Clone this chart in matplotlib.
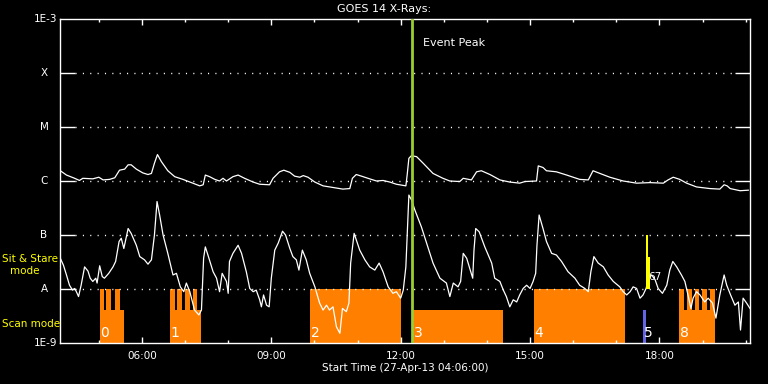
import numpy as np
import matplotlib
matplotlib.use("Agg")
import matplotlib.pyplot as plt
from matplotlib.ticker import FixedLocator, NullFormatter

# ---------------- data (time = hour of day, value = log10 flux W/m^2) ----------
long_t = [4.09, 4.25, 4.44, 4.55, 4.63, 4.86, 5.00, 5.10, 5.25, 5.37, 5.48, 5.60, 5.68, 5.75,
          5.87, 6.02, 6.14, 6.22, 6.29, 6.36, 6.45, 6.60, 6.76, 6.95, 7.18, 7.34, 7.42, 7.47,
          7.57, 7.69, 7.80, 7.88, 7.96, 8.11, 8.23, 8.38, 8.58, 8.73, 8.96, 9.04, 9.19, 9.29,
          9.43, 9.54, 9.66, 9.74, 9.85, 10.01, 10.20, 10.43, 10.66, 10.82, 10.88, 10.97, 11.09,
          11.28, 11.44, 11.59, 11.75, 11.90, 12.12, 12.15, 12.19, 12.25, 12.37, 12.52, 12.75,
          12.98, 13.14, 13.37, 13.45, 13.64, 13.76, 13.87, 14.07, 14.30, 14.53, 14.76, 14.88,
          15.15, 15.19, 15.30, 15.38, 15.61, 15.85, 16.15, 16.35, 16.46, 16.62, 16.85, 17.16,
          17.47, 17.78, 18.09, 18.20, 18.32, 18.47, 18.63, 18.86, 19.17, 19.40, 19.50, 19.57,
          19.64, 19.87, 20.06]
long_logf = [-5.80, -5.89, -5.95, -5.99, -5.95, -5.96, -5.93, -5.98, -5.97, -5.94, -5.80, -5.78,
             -5.70, -5.70, -5.78, -5.85, -5.88, -5.86, -5.67, -5.51, -5.64, -5.81, -5.92, -5.97,
             -6.04, -6.09, -6.07, -5.89, -5.92, -5.97, -6.00, -5.95, -6.00, -5.92, -5.89, -5.95,
             -6.02, -6.06, -6.07, -5.95, -5.83, -5.80, -5.84, -5.91, -5.93, -5.90, -5.93, -6.02,
             -6.09, -6.12, -6.15, -6.14, -5.95, -5.88, -5.91, -5.96, -6.00, -5.99, -6.02, -6.06,
             -6.09, -5.89, -5.58, -5.53, -5.55, -5.67, -5.86, -5.95, -6.00, -6.01, -5.95, -5.98,
             -5.83, -5.81, -5.88, -5.98, -6.02, -6.04, -6.01, -6.00, -5.72, -5.75, -5.81, -5.83,
             -5.89, -5.97, -5.98, -5.81, -5.86, -5.93, -6.00, -6.04, -6.03, -6.04, -5.98, -5.93,
             -5.97, -6.04, -6.11, -6.14, -6.15, -6.07, -6.09, -6.14, -6.18, -6.17]

short_t = [4.09, 4.18, 4.25, 4.32, 4.39, 4.44, 4.48, 4.53, 4.59, 4.67, 4.75, 4.80, 4.86, 4.93,
           4.96, 5.02, 5.08, 5.13, 5.23, 5.33, 5.39, 5.47, 5.52, 5.58, 5.68, 5.75, 5.87, 5.95,
           6.06, 6.14, 6.22, 6.29, 6.35, 6.41, 6.49, 6.60, 6.72, 6.80, 6.89, 6.97, 7.03, 7.11,
           7.22, 7.32, 7.38, 7.43, 7.47, 7.53, 7.65, 7.73, 7.80, 7.86, 7.96, 8.00, 8.03, 8.11,
           8.23, 8.31, 8.42, 8.50, 8.58, 8.65, 8.73, 8.77, 8.82, 8.89, 8.95, 9.00, 9.08, 9.16,
           9.26, 9.33, 9.43, 9.50, 9.58, 9.64, 9.72, 9.81, 9.89, 10.01, 10.12, 10.20, 10.28,
           10.35, 10.43, 10.51, 10.59, 10.65, 10.74, 10.80, 10.84, 10.92, 11.05, 11.17, 11.28,
           11.40, 11.50, 11.59, 11.71, 11.82, 11.90, 12.00, 12.06, 12.12, 12.15, 12.19, 12.25,
           12.33, 12.48, 12.60, 12.75, 12.91, 13.06, 13.14, 13.22, 13.33, 13.39, 13.45, 13.53,
           13.67, 13.70, 13.74, 13.82, 13.95, 14.11, 14.18, 14.30, 14.38, 14.45, 14.53, 14.61,
           14.69, 14.76, 14.84, 14.92, 15.00, 15.07, 15.13, 15.16, 15.21, 15.30, 15.38, 15.50,
           15.61, 15.73, 15.88, 16.04, 16.15, 16.27, 16.35, 16.41, 16.48, 16.58, 16.70, 16.81,
           16.93, 17.08, 17.16, 17.24, 17.32, 17.39, 17.47, 17.55, 17.62, 17.69, 17.76, 17.82,
           17.90, 17.97, 18.07, 18.17, 18.24, 18.31, 18.40, 18.51, 18.59, 18.67, 18.73, 18.78,
           18.86, 18.94, 19.05, 19.13, 19.23, 19.31, 19.40, 19.50, 19.56, 19.65, 19.75, 19.83,
           19.88, 19.94, 20.02, 20.10]
short_logf = [-7.40, -7.56, -7.74, -7.93, -8.02, -7.99, -8.05, -8.14, -7.93, -7.59, -7.67, -7.80,
              -7.86, -7.80, -7.89, -7.57, -7.77, -7.80, -7.71, -7.59, -7.49, -7.12, -7.06, -7.25,
              -6.88, -6.97, -7.19, -7.40, -7.46, -7.54, -7.46, -7.00, -6.38, -6.63, -7.00, -7.34,
              -7.74, -7.71, -7.96, -8.05, -7.89, -8.05, -8.39, -8.48, -8.39, -7.43, -7.22, -7.37,
              -7.68, -7.80, -8.05, -7.71, -7.86, -8.08, -7.49, -7.34, -7.19, -7.34, -7.68, -7.99,
              -8.05, -8.02, -8.20, -8.33, -8.11, -8.30, -8.33, -7.80, -7.28, -7.15, -6.93, -7.00,
              -7.25, -7.40, -7.46, -7.65, -7.28, -7.46, -7.71, -7.96, -8.26, -8.39, -8.30, -8.39,
              -8.33, -8.70, -8.82, -8.36, -8.42, -8.26, -7.52, -6.97, -7.28, -7.46, -7.59, -7.65,
              -7.52, -7.68, -7.96, -8.08, -8.05, -8.17, -8.02, -7.59, -7.03, -6.26, -6.35, -6.54,
              -6.85, -7.15, -7.52, -7.80, -7.89, -8.14, -7.89, -7.96, -7.86, -7.34, -7.43, -7.80,
              -7.28, -6.88, -6.94, -7.22, -7.52, -7.80, -7.86, -8.02, -8.14, -8.33, -8.20, -8.24,
              -8.11, -7.99, -7.93, -7.99, -7.86, -7.71, -7.19, -6.63, -6.88, -7.12, -7.34, -7.37,
              -7.49, -7.68, -7.80, -7.93, -7.99, -8.05, -7.68, -7.40, -7.52, -7.59, -7.74, -7.86,
              -7.96, -8.05, -8.11, -8.05, -7.96, -7.99, -8.17, -8.11, -7.99, -7.77, -7.74, -7.83,
              -7.99, -8.08, -7.93, -7.65, -7.49, -7.59, -7.74, -7.86, -8.14, -8.36, -8.17, -8.05,
              -8.11, -8.24, -8.17, -8.26, -8.54, -8.11, -7.74, -7.93, -8.11, -8.30, -8.24, -8.76,
              -8.17, -8.26, -8.36]

# observation blocks: (start hour, end hour, top flux)
SIT = 1e-8      # sit & stare level
SCAN = 4.1e-9   # scan level
block_start = [5.02, 5.02, 5.17, 5.37, 6.64, 6.64, 6.81, 6.99, 7.18, 9.89, 12.29, 15.09,
               18.46, 18.46, 18.63, 18.82, 18.99, 19.17]
block_end   = [5.58, 5.13, 5.29, 5.48, 7.38, 6.76, 6.93, 7.11, 7.28, 12.00, 14.38, 17.20,
               19.29, 18.57, 18.75, 18.92, 19.10, 19.29]
block_top   = [SCAN, SIT, SIT, SIT, SCAN, SIT, SIT, SIT, SIT, SIT, SCAN, SIT,
               SCAN, SIT, SIT, SIT, SIT, SIT]
block_labels = ["0", "1", "2", "3", "4", "5", "8"]
label_t = [5.02, 6.64, 9.89, 12.29, 15.09, 17.62, 18.46]

event_peak_t = 12.27
blue_t = (17.62, 17.68)
yellow_t = (17.69, 17.74)

xmin, xmax = 4.1, 20.1
ymin, ymax = 1e-9, 1e-3
ylevels = [1e-4, 1e-5, 1e-6, 1e-7, 1e-8]
ylevel_names = ["X", "M", "C", "B", "A"]
xticks_major = [6, 9, 12, 15, 18]
xtick_labels = ["06:00", "09:00", "12:00", "15:00", "18:00"]

# ---------------- figure ----------------
W, H = 768, 384
fig = plt.figure(figsize=(W / 100, H / 100), dpi=100, facecolor="black")
L, R, T, B = 60, 750, 19, 343
ax = fig.add_axes([L / W, 1 - B / H, (R - L) / W, (B - T) / H], facecolor="black")
ax.set_yscale("log")
ax.set_xlim(xmin, xmax)
ax.set_ylim(ymin, ymax)

orange = "#ff8000"
for s, e, top in zip(block_start, block_end, block_top):
    ax.fill_between([s, e], [ymin, ymin], [top, top], color=orange, lw=0, zorder=1)

# blue and yellow markers
ax.fill_between(list(blue_t), [ymin] * 2, [SCAN] * 2, color="#6464e6", lw=0, zorder=1)
ax.fill_between(list(yellow_t), [1e-8] * 2, [1e-7] * 2, color="#ffff00", lw=0, zorder=3)
ax.fill_between([17.72, 17.77], [1e-8] * 2, [10 ** -7.40] * 2, color="#ffff00", lw=0, zorder=3)

# dotted level lines
x0 = xmin + (75 - L) / (R - L) * (xmax - xmin)
x1 = xmin + (736 - L) / (R - L) * (xmax - xmin)
for lv in ylevels:
    ax.plot([x0, x1], [lv, lv], color="white", lw=1.0, ls=(0, (0.8, 4.5)), zorder=1.5)

ax.plot(long_t, 10 ** np.array(long_logf), color="white", lw=0.9, zorder=2)
ax.plot(short_t, 10 ** np.array(short_logf), color="white", lw=0.9, zorder=2)

ax.axvline(event_peak_t, color="#9acd32", lw=2.0, zorder=3)

for lab, t in zip(block_labels, label_t):
    ax.text(t + 0.02, 1.15e-9, lab, color="white", fontsize=10, ha="left", va="bottom", zorder=4)
ax.text(17.74, 10 ** -7.78, "67", color="white", fontsize=7.5, ha="left", va="center", zorder=4)

ax.text(12.52, 10 ** -3.45, "Event Peak", color="white", fontsize=8, ha="left", va="center")

# spines & ticks
for sp in ax.spines.values():
    sp.set_color("white")
    sp.set_linewidth(1.0)
ax.xaxis.set_major_locator(FixedLocator(xticks_major))
ax.xaxis.set_minor_locator(FixedLocator([h for h in range(5, 21) if h not in xticks_major]))
ax.set_xticklabels(xtick_labels)
ax.xaxis.set_minor_formatter(NullFormatter())
ax.tick_params(axis="x", which="major", direction="in", length=4.5, width=1, colors="white",
               top=True, bottom=True, labelsize=7.5, pad=6)
ax.tick_params(axis="x", which="minor", direction="in", length=2.5, width=1, colors="white",
               top=True, bottom=True)
ax.yaxis.set_major_locator(FixedLocator(ylevels))
ax.yaxis.set_minor_locator(FixedLocator([]))
ax.tick_params(axis="y", which="major", direction="in", length=10.5, width=1, colors="white",
               left=True, right=True, labelleft=False)
ax.tick_params(axis="y", which="minor", length=0)

def ftxt(x, y, s, **kw):
    fig.text(x / W, 1 - y / H, s, **kw)

ftxt(57, 19, "1E-3", color="white", fontsize=7.5, ha="right", va="center")
ftxt(57, 343, "1E-9", color="white", fontsize=7.5, ha="right", va="center")
for lv, nm in zip(ylevels, ylevel_names):
    ypx = T + (np.log10(ymax) - np.log10(lv)) / 6 * (B - T)
    ftxt(44, ypx, nm, color="white", fontsize=7.5, ha="center", va="center")

ftxt(2, 259, "Sit & Stare", color="#ffff00", fontsize=7.5, ha="left", va="center")
ftxt(24.5, 271, "mode", color="#ffff00", fontsize=7.5, ha="center", va="center")
ftxt(2, 324, "Scan mode", color="#ffff00", fontsize=7.5, ha="left", va="center")

ftxt(384, 9, "GOES 14 X-Rays:", color="white", fontsize=8, ha="center", va="center")
ftxt(405, 368, "Start Time (27-Apr-13 04:06:00)", color="white", fontsize=7.5,
     ha="center", va="center")

fig.savefig("out.png", dpi=100, facecolor="black")
